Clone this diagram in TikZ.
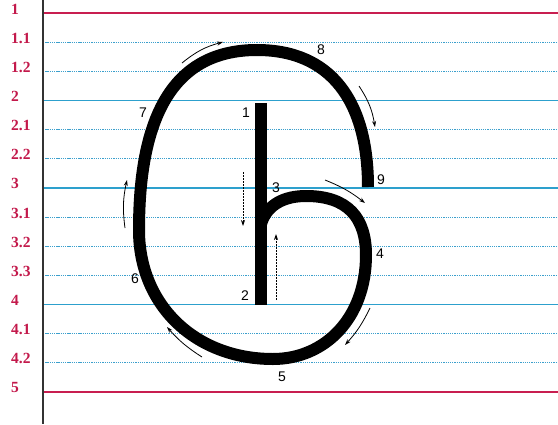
\documentclass[tikz,border=0pt]{standalone}
\usepackage{fontspec}
\setmainfont{Liberation Sans}
\newfontfamily\labfont{Liberation Serif}
\usetikzlibrary{arrows.meta}
\definecolor{rulered}{RGB}{200,30,80}
\definecolor{ruleblue}{RGB}{45,160,205}
\definecolor{dotblue}{RGB}{60,160,205}
\definecolor{labred}{RGB}{195,25,75}
\tikzset{
  redrule/.style={draw=rulered,line width=2pt},
  bluerule/.style={draw=ruleblue,line width=1.8pt},
  dotrule/.style={draw=dotblue,line width=1.1pt,dash pattern=on 1.3pt off 0.9pt},
  rowlabel/.style={anchor=base west,inner sep=0pt,text=labred,font=\labfont\bfseries\fontsize{15.5}{15.5}\selectfont},
  stepnum/.style={inner sep=0pt,font=\fontsize{14}{14}\selectfont},
  letter/.style={line width=12pt,line cap=butt,line join=round},
  guide/.style={line width=0.8pt,-{Stealth[length=6pt,width=4pt]}},
  dguide/.style={line width=0.8pt,dash pattern=on 2pt off 1pt,-{Stealth[length=6pt,width=4pt]}}
}
\begin{document}
\begin{tikzpicture}[x=1pt,y=-1pt]
\useasboundingbox[fill=white] (0,0) rectangle (558,424);
% ruled lines
\draw[redrule] (43,13) -- (558,13);
\foreach \k in {1,2,4,5,7,8,9,11,12}{
  \draw[dotrule] (43,{13+29.15*\k}) -- (558,{13+29.15*\k});
}
\foreach \k in {3,6,10}{
  \draw[bluerule] (43,{13+29.15*\k}) -- (558,{13+29.15*\k});
}
\draw[redrule] (43,{13+29.15*13}) -- (558,{13+29.15*13});
\draw[line width=1.2pt,black!80] (43,0) -- (43,424);
% row labels
\node[rowlabel] (l1)  at (11,{14+29.15*0})  {1};
\node[rowlabel] (l11) at (11,{14+29.15*1})  {1.1};
\node[rowlabel] (l12) at (11,{14+29.15*2})  {1.2};
\node[rowlabel] (l2)  at (11,{14+29.15*3})  {2};
\node[rowlabel] (l21) at (11,{14+29.15*4})  {2.1};
\node[rowlabel] (l22) at (11,{14+29.15*5})  {2.2};
\node[rowlabel] (l3)  at (11,{14+29.15*6})  {3};
\node[rowlabel] (l31) at (11,{14+29.15*7})  {3.1};
\node[rowlabel] (l32) at (11,{14+29.15*8})  {3.2};
\node[rowlabel] (l33) at (11,{14+29.15*9})  {3.3};
\node[rowlabel] (l4)  at (11,{14+29.15*10}) {4};
\node[rowlabel] (l41) at (11,{14+29.15*11}) {4.1};
\node[rowlabel] (l42) at (11,{14+29.15*12}) {4.2};
\node[rowlabel] (l5)  at (11,{14+29.15*13}) {5};
% letter
\draw[letter] (260.5,103) -- (260.5,305);
\draw[letter] (261,224) .. controls (267,204) and (285,196) .. (306,196)
  .. controls (348,196) and (366,218) .. (366,255)
  .. controls (366,318) and (325,359) .. (273,359)
  .. controls (195,359) and (139,305) .. (139,230)
  .. controls (139,125) and (168,50) .. (257,50)
  .. controls (330,50) and (368,100) .. (368,187);
% step numbers
\node[stepnum] (n1) at (246,113) {1};
\node[stepnum] (n2) at (245,296) {2};
\node[stepnum] (n3) at (276,188) {3};
\node[stepnum] (n4) at (380,254) {4};
\node[stepnum] (n5) at (282,377) {5};
\node[stepnum] (n6) at (135,279) {6};
\node[stepnum] (n7) at (143,113) {7};
\node[stepnum] (n8) at (321,50) {8};
\node[stepnum] (n9) at (381,180) {9};
% direction arrows
\coordinate (a1s) at (182,63);  \coordinate (a1e) at (223,42);
\coordinate (a2s) at (359,86);  \coordinate (a2e) at (375,127);
\coordinate (a3s) at (325,180); \coordinate (a3e) at (365,203);
\coordinate (a4s) at (370,308); \coordinate (a4e) at (345,345);
\coordinate (a5s) at (202,357); \coordinate (a5e) at (167,327);
\coordinate (a6s) at (125,228); \coordinate (a6e) at (127,180);
\coordinate (a7s) at (243,172); \coordinate (a7e) at (243,226);
\coordinate (a8s) at (276,300); \coordinate (a8e) at (276,234);
\draw[guide] (a1s) to[bend left=12] (a1e);
\draw[guide] (a2s) to[bend left=12] (a2e);
\draw[guide] (a3s) to[bend left=8] (a3e);
\draw[guide] (a4s) to[bend left=8] (a4e);
\draw[guide] (a5s) to[bend left=8] (a5e);
\draw[guide] (a6s) to[bend left=10] (a6e);
\draw[dguide] (a7s) -- (a7e);
\draw[dguide] (a8s) -- (a8e);
\end{tikzpicture}
\end{document}
